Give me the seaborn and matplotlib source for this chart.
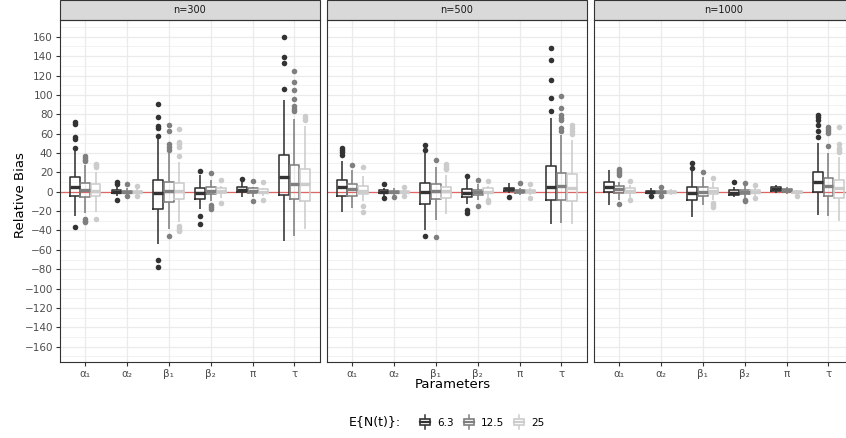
import numpy as np
import pandas as pd
import matplotlib
matplotlib.use("Agg")
import matplotlib.pyplot as plt
import matplotlib.patches as mpatches
from matplotlib.lines import Line2D
from matplotlib.legend_handler import HandlerBase
import seaborn as sns

params = ["α₁", "α₂", "β₁", "β₂", "π", "τ"]
levels = ["6.3", "12.5", "25"]
sizes = ["n=300", "n=500", "n=1000"]

# box summaries: one row per parameter, one column per E{N(t)} level
q1_300 = [[-4.4, -5.5, -4.4], [-1.8, -1, -1], [-17.5, -10.6, -7.9], [-7.2, -2.4, -1.6], [-0.4, -1, -1], [-3, -7.9, -10]]
med_300 = [[5.2, 2, 0.5], [0, 0, 0], [-1, 0.5, 0.5], [-1, 0.5, 0.5], [2, 0.5, 0], [15.5, 8.3, 7.6]]
q3_300 = [[15.2, 9, 7.6], [1.8, 1, 1], [12, 10, 9.3], [4, 5, 3.6], [5, 3.6, 2.5], [38, 27.9, 23]]
lo_300 = [[-25, -22, -20.6], [-4, -3, -2.5], [-54, -38, -31], [-18, -10, -6], [-5, -5, -4], [-50.5, -45.7, -38.8]]
hi_300 = [[43, 27.5, 20.6], [5, 3.5, 2.5], [55, 40, 31], [17, 12, 6], [10, 5, 4], [95, 75, 68]]
out_300 = [
    [[45, 54, 56.7, 70, 72, -36.8], [31.5, 33, 35, 36.5, -28, -30, -31], [26, 27.5, 29, -28]],
    [[8.5, 10, -8], [7.5, -4.5], [6, -4.5]],
    [[58, 65.7, 68, 76.8, 90.5, -70, -77.4], [43, 46, 49, 63, 68.5, -46], [36.8, 46.4, 49, 51.6, 65, -35, -37, -39, -41]],
    [[21, -25, -33.5], [19.6, -14, -16, -18], [12, -11.7]],
    [[13.5], [11, -10], [10, -8.7]],
    [[105.7, 132.5, 138.7, 160], [83, 85, 88.7, 96, 105, 113.5, 125], [74, 76, 78]],
]

q1_500 = [[-4, -4, -2.5], [-1.6, -1.2, -1], [-12.7, -7.2, -6.5], [-5.4, -3.6, -1.2], [0.5, -1, -1], [-8.6, -8.6, -9.3]]
med_500 = [[5, 2.8, 1], [0, 0, 0], [-0.7, 0.5, 0.5], [-0.8, 0, 0], [3.2, 0.5, 0.5], [4.8, 6.2, 3.5]]
q3_500 = [[12, 8, 5.5], [1.6, 1.2, 1], [9, 8.3, 5.2], [3.2, 2, 3.6], [4, 2, 2], [26.8, 19.6, 18.3]]
lo_500 = [[-21, -17, -10], [-4, -3, -2.5], [-40, -29, -23], [-13, -8, -6], [-1, -3, -3], [-33, -32, -33]]
hi_500 = [[32, 22.4, 16], [4, 3.8, 2.5], [40, 26, 17], [14, 8, 6], [8.6, 4, 4], [75.7, 58.5, 53]]
out_500 = [
    [[38, 41, 43, 45], [27.9], [25.8, -15, -21]],
    [[7.6, -6.5], [-5], [5, -4.5]],
    [[43, 48, -46], [32.7, -47], [23, 25, 27, 29]],
    [[16.5, -19, -22], [12.3, -14.8], [11, -9, -11]],
    [[-5.5], [8.6], [8, -6]],
    [[83.6, 96.7, 115, 135.6, 148], [63, 65.4, 74, 76, 79, 86, 98.8], [60, 63, 66, 68.8]],
]

q1_1000 = [[-0.3, -1.2, -1], [-1, -1, -1], [-8.6, -4.4, -2.5], [-3.6, -2, -1.5], [1.2, 0, -1], [-0.3, -4.4, -6.9]]
med_1000 = [[5, 3, 1], [0, 0, 0], [-1.4, 0, 0.5], [-1, 0, 0], [3.2, 1.5, 0], [10.3, 5.9, 3.5]]
q3_1000 = [[10.3, 6, 3.5], [1, 1, 1], [4.5, 5.2, 3.5], [1.5, 2, 1.5], [4.7, 3.2, 1], [20.6, 14.4, 12]]
lo_1000 = [[-13.7, -8, -6], [-3, -3, -3], [-25.8, -13.7, -8], [-5.5, -6, -4], [-1.5, -2, -3], [-24, -25, -30]]
hi_1000 = [[22.4, 10, 7], [3.5, 3, 3], [23, 15, 10], [5, 6, 4], [7, 5, 2], [50, 40, 36]]
out_1000 = [
    [[], [17, 19, 21, 23, -12.5], [11.5, -8.5]],
    [[-4.5], [4.8, -4.5], []],
    [[25, 29.3], [20.6], [14.4, -12, -14, -16]],
    [[10.3], [8.6, -8.5, -9.3], [6.5, -6.5]],
    [[], [], [-4.5]],
    [[56.8, 63, 69, 74, 77, 79], [47.5, 61, 63, 65, 66.5], [41.3, 43, 44.7, 49, 66.5]],
]

colors = {"6.3": "#333333", "12.5": "#7f7f7f", "25": "#cccccc"}

# turn each summary into a small sample whose boxplot reproduces it
rows = []
panels = [
    (sizes[0], q1_300, med_300, q3_300, lo_300, hi_300, out_300),
    (sizes[1], q1_500, med_500, q3_500, lo_500, hi_500, out_500),
    (sizes[2], q1_1000, med_1000, q3_1000, lo_1000, hi_1000, out_1000),
]
for size, q1s, meds, q3s, los, his, outs in panels:
    for i, p in enumerate(params):
        for j, lev in enumerate(levels):
            vals = [los[i][j], his[i][j]] + [q1s[i][j]] * 20 + [meds[i][j]] * 20 + [q3s[i][j]] * 20 + outs[i][j]
            rows += [(size, p, lev, v) for v in vals]
df = pd.DataFrame(rows, columns=["size", "param", "level", "bias"])


class BoxKey:
    def __init__(self, color):
        self.color = color


class BoxKeyHandler(HandlerBase):
    # small ggplot-like boxplot glyph for the legend
    def create_artists(self, legend, orig_handle, xdescent, ydescent, width, height, fontsize, trans):
        c = orig_handle.color
        x0, y0 = -xdescent, -ydescent
        cx = x0 + width / 2
        whisk = Line2D([cx, cx], [y0 - 1, y0 + height + 1], color=c, lw=1.1, transform=trans)
        box = mpatches.Rectangle((x0 + 0.5, y0 + height * 0.2), width - 1, height * 0.6,
                                 facecolor="white", edgecolor=c, lw=1.2, transform=trans)
        med = Line2D([x0 + 0.5, x0 + width - 0.5], [y0 + height / 2] * 2, color=c, lw=1.6, transform=trans)
        return [whisk, box, med]


fig, axes = plt.subplots(1, 3, figsize=(8.46, 4.38), dpi=100, sharey=True)
fig.subplots_adjust(left=0.0709, right=1.009, bottom=0.1735, top=0.954, wspace=0.0285)

for k, (ax, size) in enumerate(zip(axes, sizes)):
    sub = df[df["size"] == size]
    ax.axhline(0, color="#e06666", lw=0.9, zorder=1.5)
    sns.boxplot(data=sub, x="param", y="bias", hue="level", order=params, hue_order=levels,
                palette=colors, fill=False, width=0.75, gap=0.06, linewidth=1.15, showcaps=False,
                flierprops=dict(marker="o", markersize=4), medianprops=dict(linewidth=2.4),
                legend=False, ax=ax)
    for line in ax.lines:
        if line.get_marker() == "o":
            line.set_markerfacecolor(line.get_markeredgecolor())
            line.set_markeredgewidth(0)
    ax.set_xlim(-0.6, 5.6)
    ax.set_ylim(-175.8, 177.2)
    ax.set_yticks(np.arange(-160, 161, 20))
    ax.set_yticks(np.arange(-170, 171, 20), minor=True)
    ax.set_axisbelow(True)
    ax.grid(which="major", color="#ebebeb", lw=0.9)
    ax.grid(which="minor", axis="y", color="#ebebeb", lw=0.45)
    ax.set_xlabel("")
    ax.set_ylabel("")
    for s in ax.spines.values():
        s.set_color("#333333")
        s.set_linewidth(0.8)
    ax.tick_params(axis="both", which="major", length=3, width=0.8, color="#333333",
                   labelsize=7.5, labelcolor="#4d4d4d", pad=2)
    ax.tick_params(axis="y", which="minor", length=0)
    if k > 0:
        ax.tick_params(axis="y", which="both", left=False)
    # facet strip
    ax.add_patch(mpatches.Rectangle((0, 1), 1, 20 / 342, transform=ax.transAxes, facecolor="#d9d9d9",
                                    edgecolor="#333333", lw=0.8, clip_on=False))
    ax.text(0.5, 1 + 10 / 342, size, transform=ax.transAxes, ha="center", va="center",
            fontsize=7, color="#1a1a1a")

fig.text(0.535, 0.123, "Parameters", ha="center", va="center", fontsize=9.5)
fig.text(0.024, 1 - 195 / 438, "Relative Bias", ha="center", va="center", rotation=90, fontsize=9.5)

handles = [BoxKey(colors[lev]) for lev in levels]
fig.text(375 / 846, 0.0365, "E{N(t)}:", ha="center", va="center", fontsize=9)
fig.legend(handles, levels, handler_map={BoxKey: BoxKeyHandler()},
           loc="center left", bbox_to_anchor=(410 / 846, 0.0365), ncol=3, frameon=False,
           handlelength=1.1, handleheight=1.25, columnspacing=0.9, handletextpad=0.6, fontsize=7.5)

fig.savefig("out.png", dpi=100)
